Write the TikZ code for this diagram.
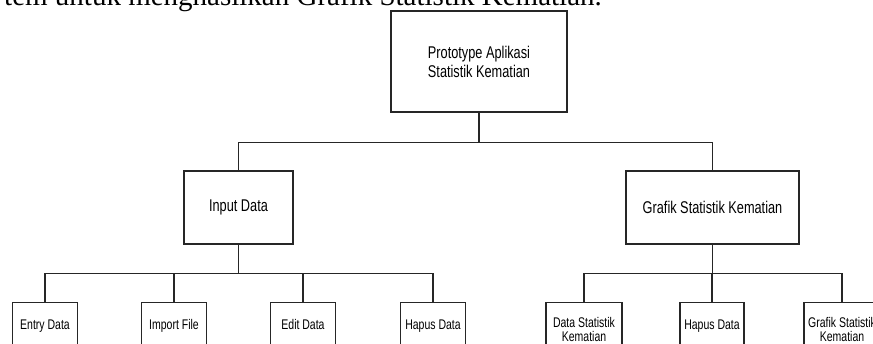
\documentclass[tikz,border=0pt]{standalone}
\usepackage{fontspec}
\newfontfamily\boxfont{Liberation Sans}[FakeStretch=0.75]
\newfontfamily\topfont{Liberation Serif}

\begin{document}
\begin{tikzpicture}[x=1pt, y=-1pt,
    box/.style={draw=black!85, line width=1.2pt, align=center, inner sep=2pt,
        font=\boxfont\fontsize{17}{19}\selectfont},
    leaf/.style={box, anchor=north, minimum height=54pt,
        font=\boxfont\fontsize{14}{14}\selectfont},
    leafone/.style={leaf, text height=10pt, text depth=10pt},
    link/.style={draw=black!85, line width=1.2pt}]
    \useasboundingbox (0,0) rectangle (873,343);
    % Text above the chart
    \node[anchor=base east, inner sep=0pt, font=\topfont\fontsize{29}{32}\selectfont]
        (caption) at (602,5) {tem untuk menghasilkan Grafik Statistik Kematian.};
    % Top
    \node[box, minimum width=176pt, minimum height=101pt] (root) at (479,61.5)
        {Prototype Aplikasi\\Statistik Kematian};
    % Second level
    \node[box, minimum width=109pt, minimum height=73pt] (input) at (238.5,207.5) {Input Data};
    \node[box, minimum width=173pt, minimum height=73pt] (grafik) at (712.5,207.5) {Grafik Statistik Kematian};
    % Leaves under Input Data
    \node[leafone, minimum width=65pt] (entry) at (45,302) {Entry Data};
    \node[leafone, minimum width=65pt] (import) at (174,302) {Import File};
    \node[leafone, minimum width=65pt] (edit) at (303,302) {Edit Data};
    \node[leafone, minimum width=65pt] (hapus) at (433,302) {Hapus Data};
    % Leaves under Grafik Statistik Kematian
    \node[leaf, minimum width=76pt] (datastat) at (584,302) {Data Statistik\\Kematian};
    \node[leafone, minimum width=64pt] (hapusgrafik) at (712,302) {Hapus Data};
    \node[leaf, minimum width=76pt] (grafikstat) at (842,302) {Grafik Statistik\\Kematian};
    % Connectors
    \foreach \n in {input, grafik}
        \draw[link] (root.south) -- ++(0,30) -| (\n.north);
    \foreach \n in {entry, import, edit, hapus}
        \draw[link] (input.south) -- ++(0,29) -| (\n.north);
    \foreach \n in {datastat, hapusgrafik, grafikstat}
        \draw[link] (grafik.south) -- ++(0,29) -| (\n.north);
\end{tikzpicture}
\end{document}
